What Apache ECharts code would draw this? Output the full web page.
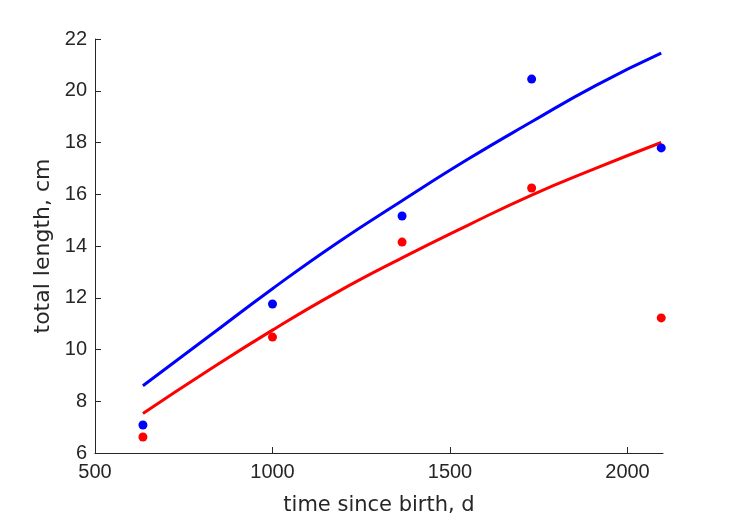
<!DOCTYPE html>
<html>
<head>
<meta charset="utf-8">
<script src="https://cdn.jsdelivr.net/npm/echarts@6/dist/echarts.min.js"></script>
<style>html,body{margin:0;padding:0;background:#fff}#c{width:729px;height:521px}</style>
</head>
<body>
<div id="c"></div>
<script>
// observation times (days since birth)
const obsDays = [635, 1000, 1365, 1730, 2095];
// observed total lengths (cm)
const blueObs = [7.08, 11.76, 15.16, 20.45, 17.79];
const redObs  = [6.62, 10.48, 14.15, 16.24, 11.22];
// fitted growth curves
const curveDays = [635, 820, 1000, 1180, 1365, 1550, 1730, 1910, 2095];
const blueCurve = [8.6, 10.5, 12.35, 14.1, 15.75, 17.35, 18.8, 20.2, 21.45];
const redCurve  = [7.53, 9.2, 10.75, 12.2, 13.54, 14.8, 15.97, 17.0, 18.0];
const xTicks = [500, 1000, 1500, 2000];
const yTicks = [6, 8, 10, 12, 14, 16, 18, 20, 22];

const pair = (xs, ys) => xs.map((x, i) => [x, ys[i]]);
const axisCol = '#262626';
const font = 'Liberation Sans, Arial, sans-serif';
const nameFont = 'DejaVu Sans, sans-serif';

const chart = echarts.init(document.getElementById('c'));
chart.setOption({
  animation: false,
  backgroundColor: '#fff',
  grid: { left: 95, right: 66, top: 39, bottom: 68, containLabel: false },
  xAxis: {
    type: 'value', min: 500, max: 2100, interval: 500,
    name: 'time since birth, d', nameLocation: 'middle', nameGap: 42,
    nameTextStyle: { color: axisCol, fontSize: 21, fontFamily: nameFont },
    axisLine: { show: true, lineStyle: { color: axisCol, width: 1 } },
    axisTick: { show: true, inside: true, length: 6, customValues: xTicks, lineStyle: { color: axisCol } },
    axisLabel: { color: axisCol, fontSize: 20, fontFamily: font, margin: 9, customValues: xTicks,
      formatter: v => String(v) },
    splitLine: { show: false }
  },
  yAxis: {
    type: 'value', min: 6, max: 22, interval: 2,
    name: 'total length, cm', nameLocation: 'middle', nameGap: 38, nameRotate: 90,
    nameTextStyle: { color: axisCol, fontSize: 22, fontFamily: nameFont },
    axisLine: { show: true, lineStyle: { color: axisCol, width: 1 } },
    axisTick: { show: true, inside: true, length: 6, customValues: yTicks, lineStyle: { color: axisCol } },
    axisLabel: { color: axisCol, fontSize: 20, fontFamily: font, margin: 8, customValues: yTicks,
      formatter: v => String(v) },
    splitLine: { show: false }
  },
  series: [
    { type: 'line', data: pair(curveDays, blueCurve), smooth: true, showSymbol: false,
      lineStyle: { color: '#0000ff', width: 3 }, z: 2 },
    { type: 'line', data: pair(curveDays, redCurve), smooth: true, showSymbol: false,
      lineStyle: { color: '#ff0000', width: 3 }, z: 2 },
    { type: 'scatter', data: pair(obsDays, blueObs), symbolSize: 9,
      itemStyle: { color: '#0000ff', opacity: 1 }, z: 3 },
    { type: 'scatter', data: pair(obsDays, redObs), symbolSize: 9,
      itemStyle: { color: '#ff0000', opacity: 1 }, z: 3 }
  ]
});
</script>
</body>
</html>
